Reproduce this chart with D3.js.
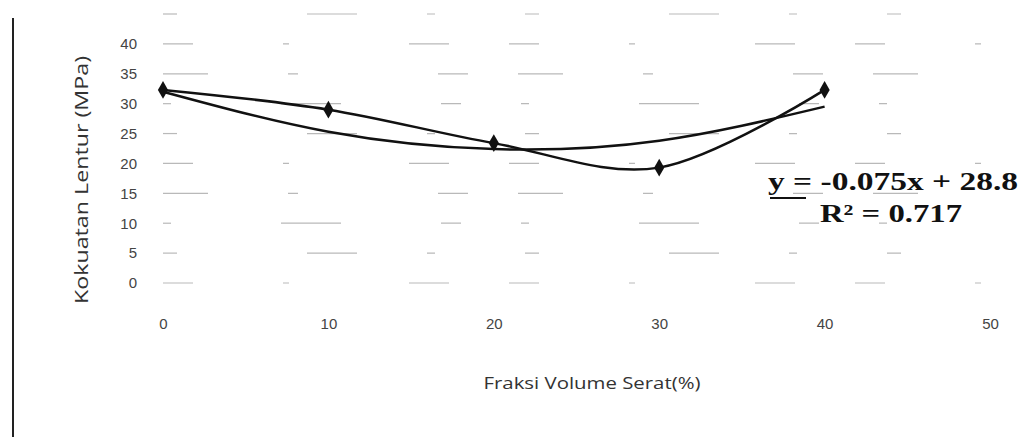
<!DOCTYPE html>
<html><head><meta charset="utf-8">
<script src="https://cdn.jsdelivr.net/npm/d3@7"></script>
<style>body{margin:0;background:#fff}svg{display:block}</style>
</head><body>
<svg id="c" width="1027" height="437"></svg>
<script>
const fraksi = [0, 10, 20, 30, 40];
const kekuatan = [32.3, 29.0, 23.4, 19.3, 32.3];
const trend = [32.0, 25.3, 22.4, 23.8, 29.5];
const xTicks = [0, 10, 20, 30, 40, 50];
const yTicks = [0, 5, 10, 15, 20, 25, 30, 35, 40];
const gridVals = [0, 5, 10, 15, 20, 25, 30, 35, 40, 45];
const eqText = "y = -0.075x + 28.8";
const r2Text = "R\u00b2 = 0.717";

const svg = d3.select("#c");
const x = d3.scaleLinear().domain([0, 50]).range([163, 990]);
const y = d3.scaleLinear().domain([0, 45]).range([283, 14]);

// frame line at left
svg.append("line").attr("x1", 13).attr("x2", 13).attr("y1", 18).attr("y2", 437)
  .attr("stroke", "#222").attr("stroke-width", 2);

// faint gridlines
svg.append("g").selectAll("line").data(gridVals).join("line")
  .attr("x1", x(0)).attr("x2", x(50))
  .attr("y1", d => y(d)).attr("y2", d => y(d))
  .attr("stroke", "#666").attr("stroke-width", 1.2).attr("opacity", 0.45)
  .attr("stroke-dasharray", (d, i) => ["30 90 6 120 40 60", "14 130 50 70 8 90", "8 110 60 100 20 60", "45 80 10 140 30 50"][i % 4]);

// y axis labels
const yAxis = d3.axisLeft(y).tickValues(yTicks).tickSize(0).tickPadding(0);
const gy = svg.append("g").attr("transform", "translate(137,0)").call(yAxis);
gy.select(".domain").remove();
gy.selectAll("text").attr("font-family", "Liberation Sans, sans-serif").attr("font-size", 15).attr("fill", "#444");

// x axis labels
const xAxis = d3.axisBottom(x).tickValues(xTicks).tickSize(0).tickPadding(0);
const gx = svg.append("g").attr("transform", "translate(0,318)").call(xAxis);
gx.select(".domain").remove();
gx.selectAll("text").attr("font-family", "Liberation Sans, sans-serif").attr("font-size", 15).attr("fill", "#444");

// axis titles
svg.append("text").attr("transform", "translate(88,180) rotate(-90)")
  .attr("text-anchor", "middle").attr("font-family", "Open Sans, sans-serif").attr("font-size", 18)
  .attr("fill", "#333").attr("textLength", 248).attr("lengthAdjust", "spacingAndGlyphs")
  .text("Kokuatan Lentur (MPa)");
svg.append("text").attr("x", 592).attr("y", 389).attr("text-anchor", "middle")
  .attr("font-family", "Open Sans, sans-serif").attr("font-size", 17).attr("fill", "#333")
  .attr("textLength", 217).attr("lengthAdjust", "spacingAndGlyphs")
  .text("Fraksi Volume Serat(%)");

// trend line
const trendData = fraksi.map((f, i) => [f, trend[i]]);
svg.append("path").datum(trendData)
  .attr("d", d3.line().x(d => x(d[0])).y(d => y(d[1])).curve(d3.curveNatural))
  .attr("fill", "none").attr("stroke", "#111").attr("stroke-width", 2.5);

// data line
const data = fraksi.map((f, i) => [f, kekuatan[i]]);
svg.append("path").datum(data)
  .attr("d", d3.line().x(d => x(d[0])).y(d => y(d[1])).curve(d3.curveCardinal.tension(0)))
  .attr("fill", "none").attr("stroke", "#111").attr("stroke-width", 2.5);

// markers
svg.append("g").selectAll("path").data(data).join("path")
  .attr("transform", d => `translate(${x(d[0])},${y(d[1])})`)
  .attr("d", d3.symbol().type(d3.symbolDiamond).size(90))
  .attr("fill", "#111");

// equation
svg.append("line").attr("x1", 770).attr("x2", 806).attr("y1", 198).attr("y2", 198)
  .attr("stroke", "#111").attr("stroke-width", 2);
svg.append("text").attr("x", 768).attr("y", 190)
  .attr("font-family", "Liberation Serif, serif").attr("font-weight", "bold").attr("font-size", 25)
  .attr("fill", "#111").attr("textLength", 250).attr("lengthAdjust", "spacingAndGlyphs").text(eqText);
svg.append("text").attr("x", 820).attr("y", 222)
  .attr("font-family", "Liberation Serif, serif").attr("font-weight", "bold").attr("font-size", 25)
  .attr("fill", "#111").attr("textLength", 142).attr("lengthAdjust", "spacingAndGlyphs").text(r2Text);
</script>
</body></html>
